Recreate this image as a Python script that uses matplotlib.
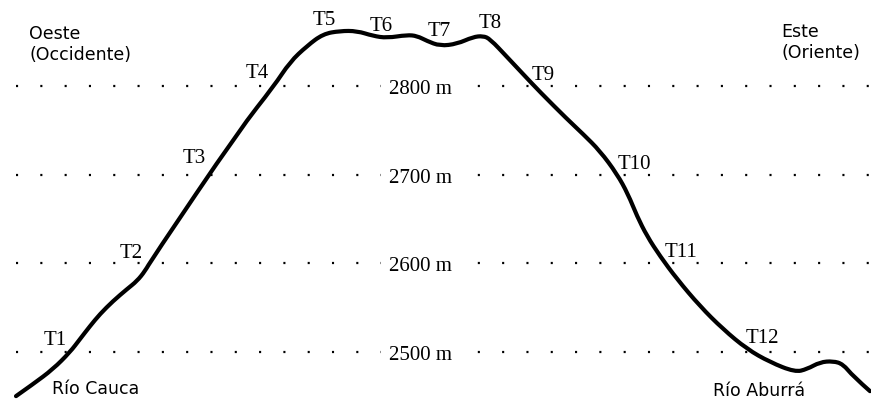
import matplotlib
matplotlib.use('Agg')
import matplotlib.pyplot as plt
from matplotlib.path import Path
from matplotlib.patches import PathPatch

# ── data ──────────────────────────────────────────────────────────────────────
# horizontal distance (arbitrary units) and elevation (m) along the profile
dist = [16, 33, 53, 70, 80, 90, 100, 113, 127, 137, 145, 152, 240, 274, 290,
        307, 323, 340, 357, 373, 387, 407, 417, 427, 440, 457, 473, 483, 490,
        507, 523, 540, 567, 583, 600, 617, 628, 637, 647, 660, 677, 700, 723,
        747, 770, 795, 807, 820, 833, 843, 853, 870]
elev = [2450.5, 2464.0, 2480.9, 2500.1, 2514.8, 2529.4, 2543.0, 2557.6, 2571.1,
        2580.2, 2591.4, 2605.0, 2751.5, 2800.0, 2827.1, 2845.1, 2858.6, 2862.0,
        2862.0, 2856.4, 2854.1, 2857.5, 2856.4, 2850.7, 2845.1, 2847.4, 2855.2,
        2856.4, 2853.0, 2832.7, 2813.5, 2793.2, 2762.8, 2745.9, 2726.7, 2700.8,
        2678.2, 2653.4, 2630.9, 2608.3, 2582.4, 2551.8, 2526.0, 2503.5, 2488.8,
        2477.6, 2480.9, 2488.8, 2490.0, 2486.6, 2473.0, 2456.1]

contours = [2500, 2600, 2700, 2800]

stations = ['T1', 'T2', 'T3', 'T4', 'T5', 'T6', 'T7', 'T8', 'T9', 'T10', 'T11', 'T12']
station_x = [55, 131, 194, 257, 324, 381, 439, 490, 543, 634, 681, 762]
station_elev = [2509, 2607, 2714, 2810, 2870, 2863.5, 2857, 2866.5, 2808, 2707.5,
                2608, 2511]

# ── plot ──────────────────────────────────────────────────────────────────────
plt.rcParams['lines.scale_dashes'] = False
fig = plt.figure(figsize=(8.71, 4.10), dpi=100)
ax = fig.add_axes([0, 0, 1, 1])
ax.set_xlim(0, 871)
ax.set_ylim(2436, 2898)
ax.axis('off')

serif = 'Liberation Serif'
sans = 'DejaVu Sans'

for c in contours:
    ax.plot([16, 870], [c, c], color='black', linewidth=1.6,
            dashes=(1.5, 16.0), dash_capstyle='butt', zorder=1)
    ax.annotate(f'{c} m', xy=(420, c), xytext=(0, -7), textcoords='offset pixels',
                ha='center', va='baseline', fontsize=15, family=serif,
                bbox=dict(boxstyle='square,pad=0.35', fc='white', ec='none'),
                zorder=2)

# smooth profile: quadratic segments between midpoints, data points as controls
pts = list(zip(dist, elev))
verts = [pts[0]]
codes = [Path.MOVETO]
for i in range(1, len(pts) - 1):
    mid = ((pts[i][0] + pts[i + 1][0]) / 2, (pts[i][1] + pts[i + 1][1]) / 2)
    if i == len(pts) - 2:
        mid = pts[-1]
    verts += [pts[i], mid]
    codes += [Path.CURVE3, Path.CURVE3]
ax.add_patch(PathPatch(Path(verts, codes), fc='none', ec='black', lw=3,
                       joinstyle='round', capstyle='round', zorder=3))

for name, x, e in zip(stations, station_x, station_elev):
    ax.text(x, e, name, ha='center', va='baseline', fontsize=15, family=serif,
            zorder=4)

ax.text(29, 2830.5, 'Oeste\n(Occidente)', ha='left', va='baseline',
        fontsize=12.5, family=sans, linespacing=1.2)
ax.text(781, 2833, 'Este\n(Oriente)', ha='left', va='baseline',
        fontsize=12.5, family=sans, linespacing=1.2)
ax.text(52, 2454, 'Río Cauca', ha='left', va='baseline', fontsize=12.5,
        family=sans)
ax.text(713, 2451.5, 'Río Aburrá', ha='left', va='baseline', fontsize=12.5,
        family=sans)

plt.savefig('out.png', dpi=100)
plt.close()
